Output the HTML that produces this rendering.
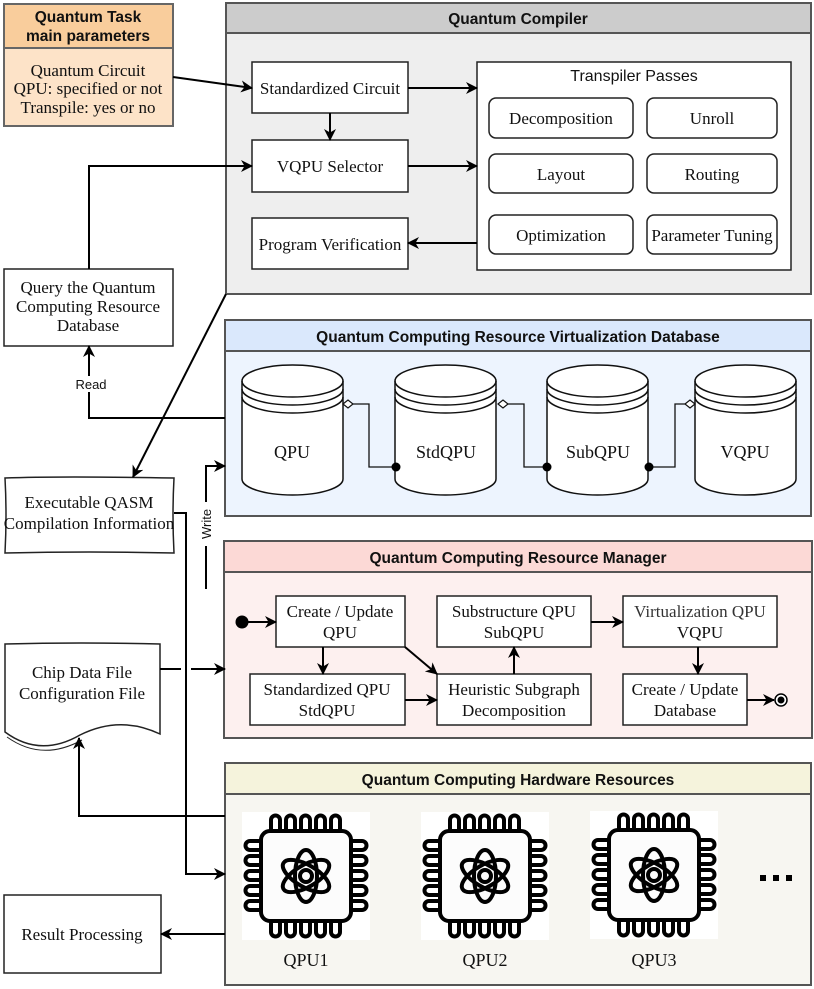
<!DOCTYPE html>
<html><head><meta charset="utf-8"><style>
html,body{margin:0;padding:0;background:#fff;}
svg{display:block;}
.s{font-family:"Liberation Serif",serif;font-size:17px;fill:#111;}
.h{font-family:"Liberation Sans",sans-serif;font-weight:bold;font-size:15.5px;fill:#111;}
.l{font-family:"Liberation Sans",sans-serif;font-size:13px;fill:#111;}
</style></head><body>
<svg width="814" height="989" viewBox="0 0 814 989" xmlns="http://www.w3.org/2000/svg">
<defs>
<marker id="a" markerWidth="12" markerHeight="12" refX="11" refY="6" orient="auto" markerUnits="userSpaceOnUse">
<path d="M0,0 L12,6 L0,12 L3.5,6 z" fill="#000"/></marker>
<g id="chip">
<rect x="0" y="0" width="128" height="128" fill="#fff"/>
<g fill="none" stroke="#000" stroke-width="4">
<rect x="19" y="19" width="90" height="90" rx="9" fill="#fcfcfc"/>
<path d="M29,19V8a4.5,4.5 0 0 1 9,0V19 M44,19V8a4.5,4.5 0 0 1 9,0V19 M59,19V8a4.5,4.5 0 0 1 9,0V19 M74,19V8a4.5,4.5 0 0 1 9,0V19 M89,19V8a4.5,4.5 0 0 1 9,0V19"/>
<path d="M29,109V120a4.5,4.5 0 0 0 9,0V109 M44,109V120a4.5,4.5 0 0 0 9,0V109 M59,109V120a4.5,4.5 0 0 0 9,0V109 M74,109V120a4.5,4.5 0 0 0 9,0V109 M89,109V120a4.5,4.5 0 0 0 9,0V109"/>
<path d="M19,29H8a4.5,4.5 0 0 0 0,9H19 M19,44H8a4.5,4.5 0 0 0 0,9H19 M19,59H8a4.5,4.5 0 0 0 0,9H19 M19,74H8a4.5,4.5 0 0 0 0,9H19 M19,89H8a4.5,4.5 0 0 0 0,9H19"/>
<path d="M109,29H120a4.5,4.5 0 0 1 0,9H109 M109,44H120a4.5,4.5 0 0 1 0,9H109 M109,59H120a4.5,4.5 0 0 1 0,9H109 M109,74H120a4.5,4.5 0 0 1 0,9H109 M109,89H120a4.5,4.5 0 0 1 0,9H109"/>
<ellipse cx="64" cy="64" rx="26" ry="11" transform="rotate(90 64 64)"/>
<ellipse cx="64" cy="64" rx="26" ry="11" transform="rotate(30 64 64)"/>
<ellipse cx="64" cy="64" rx="26" ry="11" transform="rotate(150 64 64)"/>
<circle cx="64" cy="64" r="6"/>
</g></g>
</defs>

<!-- Task params -->
<rect x="4" y="4" width="169" height="122" fill="#fde3c8" stroke="#666" stroke-width="2"/>
<rect x="4" y="4" width="169" height="44" fill="#f9cd9c" stroke="#666" stroke-width="2"/>
<text class="h" x="88" y="22" text-anchor="middle">Quantum Task</text>
<text class="h" x="88" y="41" text-anchor="middle">main parameters</text>
<text class="s" x="88" y="76" text-anchor="middle">Quantum Circuit</text>
<text class="s" x="88" y="94" text-anchor="middle">QPU: specified or not</text>
<text class="s" x="88" y="113" text-anchor="middle">Transpile: yes or no</text>

<!-- Compiler -->
<rect x="226" y="3" width="585" height="291" fill="#eeeeee" stroke="#555" stroke-width="2"/>
<rect x="226" y="3" width="585" height="30" fill="#cccccc" stroke="#555" stroke-width="2"/>
<text class="h" x="518" y="24" text-anchor="middle">Quantum Compiler</text>
<g fill="#fff" stroke="#222" stroke-width="1.5">
<rect x="252" y="62" width="156" height="51"/>
<rect x="252" y="140" width="156" height="52"/>
<rect x="252" y="218" width="156" height="51"/>
<rect x="477" y="62" width="314" height="208"/>
<rect x="489" y="98" width="144" height="40" rx="7"/>
<rect x="647" y="98" width="130" height="40" rx="7"/>
<rect x="489" y="154" width="144" height="39" rx="7"/>
<rect x="647" y="154" width="130" height="39" rx="7"/>
<rect x="489" y="215" width="144" height="39" rx="7"/>
<rect x="647" y="215" width="130" height="39" rx="7"/>
</g>
<text class="s" x="330" y="94" text-anchor="middle">Standardized Circuit</text>
<text class="s" x="330" y="172" text-anchor="middle">VQPU Selector</text>
<text class="s" x="330" y="250" text-anchor="middle">Program Verification</text>
<text class="l" x="634" y="81" text-anchor="middle" style="font-size:16px">Transpiler Passes</text>
<text class="s" x="561" y="124" text-anchor="middle">Decomposition</text>
<text class="s" x="712" y="124" text-anchor="middle">Unroll</text>
<text class="s" x="561" y="180" text-anchor="middle">Layout</text>
<text class="s" x="712" y="180" text-anchor="middle">Routing</text>
<text class="s" x="561" y="241" text-anchor="middle">Optimization</text>
<text class="s" x="712" y="241" text-anchor="middle">Parameter Tuning</text>

<!-- Query -->
<rect x="4" y="269" width="169" height="77" fill="#fff" stroke="#222" stroke-width="1.5"/>
<text class="s" x="88" y="293" text-anchor="middle">Query the Quantum</text>
<text class="s" x="88" y="312" text-anchor="middle">Computing Resource</text>
<text class="s" x="88" y="331" text-anchor="middle">Database</text>

<!-- DB -->
<rect x="225" y="320" width="586" height="196" fill="#edf4fe" stroke="#555" stroke-width="2"/>
<rect x="225" y="320" width="586" height="31" fill="#dae8fc" stroke="#555" stroke-width="2"/>
<text class="h" x="518" y="342" text-anchor="middle">Quantum Computing Resource Virtualization Database</text>
<g fill="#fff" stroke="#111" stroke-width="1.5">
<g id="cyl"><path d="M242,381 A50.5,16 0 0 1 343,381 V479 A50.5,16 0 0 1 242,479 Z"/>
<path d="M242,381 A50.5,16 0 0 0 343,381 M242,389 A50.5,16 0 0 0 343,389 M242,397 A50.5,16 0 0 0 343,397" fill="none"/></g>
<use href="#cyl" x="153"/><use href="#cyl" x="305"/><use href="#cyl" x="453"/>
</g>
<text class="s" x="292" y="458" text-anchor="middle" style="font-size:18px">QPU</text>
<text class="s" x="446" y="458" text-anchor="middle" style="font-size:18px">StdQPU</text>
<text class="s" x="598" y="458" text-anchor="middle" style="font-size:18px">SubQPU</text>
<text class="s" x="745" y="458" text-anchor="middle" style="font-size:18px">VQPU</text>
<g fill="none" stroke="#111" stroke-width="1.3">
<path d="M353,404H369V467H396"/><path d="M508,404H524V467H547"/><path d="M649,467H675V404H685"/>
</g>
<g fill="#fff" stroke="#111" stroke-width="1.2">
<path d="M343,404l5,-4l5,4l-5,4z"/><path d="M498,404l5,-4l5,4l-5,4z"/><path d="M685,404l5,-4l5,4l-5,4z"/>
</g>
<circle cx="396" cy="467" r="4.5"/><circle cx="547" cy="467" r="4.5"/><circle cx="649" cy="467" r="4.5"/>

<!-- QASM doc -->
<path d="M5,478 Q60,476 174,478 Q172,515 174,553 Q90,551 5,553 Q7,515 5,478Z" fill="#fff" stroke="#222" stroke-width="1.5"/>
<text class="s" x="89" y="508" text-anchor="middle">Executable QASM</text>
<text class="s" x="89" y="529" text-anchor="middle">Compilation Information</text>

<!-- Manager -->
<rect x="224" y="541" width="588" height="197" fill="#fdf0ef" stroke="#555" stroke-width="2"/>
<rect x="224" y="541" width="588" height="31" fill="#fcd9d6" stroke="#555" stroke-width="2"/>
<text class="h" x="518" y="563" text-anchor="middle">Quantum Computing Resource Manager</text>
<g fill="#fff" stroke="#222" stroke-width="1.5">
<rect x="276" y="596" width="129" height="51"/>
<rect x="250" y="674" width="155" height="51"/>
<rect x="437" y="596" width="154" height="51"/>
<rect x="437" y="674" width="154" height="51"/>
<rect x="623" y="596" width="154" height="51"/>
<rect x="623" y="674" width="124" height="51"/>
</g>
<text class="s" x="340" y="617" text-anchor="middle">Create / Update</text>
<text class="s" x="340" y="638" text-anchor="middle">QPU</text>
<text class="s" x="327" y="695" text-anchor="middle">Standardized QPU</text>
<text class="s" x="327" y="716" text-anchor="middle">StdQPU</text>
<text class="s" x="514" y="617" text-anchor="middle">Substructure QPU</text>
<text class="s" x="514" y="638" text-anchor="middle">SubQPU</text>
<text class="s" x="514" y="695" text-anchor="middle">Heuristic Subgraph</text>
<text class="s" x="514" y="716" text-anchor="middle">Decomposition</text>
<text class="s" x="700" y="617" text-anchor="middle" style="fill:#333">Virtualization QPU</text>
<text class="s" x="700" y="638" text-anchor="middle">VQPU</text>
<text class="s" x="685" y="695" text-anchor="middle">Create / Update</text>
<text class="s" x="685" y="716" text-anchor="middle">Database</text>
<circle cx="242" cy="622" r="6.5" fill="#000"/>
<circle cx="781" cy="700" r="6" fill="#fff" stroke="#000" stroke-width="1.5"/><circle cx="781" cy="700" r="3.5" fill="#000"/>

<!-- Chip data doc -->
<path d="M5,644 Q80,642 160,644 L160,734 Q120,715 80,735 Q40,758 5,732 Z" fill="#fff" stroke="#222" stroke-width="1.5"/>
<path d="M7,737 Q42,762 82,740" fill="none" stroke="#222" stroke-width="1"/>
<text class="s" x="82" y="678" text-anchor="middle">Chip Data File</text>
<text class="s" x="82" y="699" text-anchor="middle">Configuration File</text>

<!-- Hardware -->
<rect x="225" y="763" width="586" height="222" fill="#f7f6f1" stroke="#555" stroke-width="2"/>
<rect x="225" y="763" width="586" height="31" fill="#f5f3dc" stroke="#555" stroke-width="2"/>
<text class="h" x="518" y="785" text-anchor="middle">Quantum Computing Hardware Resources</text>
<use href="#chip" x="242" y="812"/><use href="#chip" x="421" y="812"/><use href="#chip" x="590" y="811"/>
<text class="s" x="306" y="966" text-anchor="middle" style="font-size:18px">QPU1</text>
<text class="s" x="485" y="966" text-anchor="middle" style="font-size:18px">QPU2</text>
<text class="s" x="654" y="966" text-anchor="middle" style="font-size:18px">QPU3</text>
<g fill="#000"><rect x="760" y="875" width="6" height="6"/><rect x="773" y="875" width="6" height="6"/><rect x="786" y="875" width="6" height="6"/></g>

<!-- Result -->
<rect x="4" y="895" width="157" height="78" fill="#fff" stroke="#222" stroke-width="1.5"/>
<text class="s" x="82" y="940" text-anchor="middle">Result Processing</text>

<!-- connectors -->
<g fill="none" stroke="#000" stroke-width="2" marker-end="url(#a)">
<path d="M173,77 L252,88"/>
<path d="M408,88 H477"/>
<path d="M408,166 H477"/>
<path d="M477,243 H408"/>
<path d="M330,113 V140"/>
<path d="M89,269 V166 H252"/>
<path d="M225,418 H89 V346"/>
<path d="M226,294 L133,477"/>
<path d="M174,513 H186 V874 H225"/>
<path d="M160,669 H181 M191,669 H225"/>
<path d="M206,589 V466 H225"/>
<path d="M225,816 H79 V738"/>
<path d="M225,934 H161"/>
<path d="M248,622 H276"/>
<path d="M323,647 V674"/>
<path d="M405,647 L437,674"/>
<path d="M405,700 H437"/>
<path d="M514,674 V647"/>
<path d="M591,622 H623"/>
<path d="M698,647 V674"/>
<path d="M747,700 H774"/>
</g>
<rect x="78" y="376" width="26" height="16" fill="#fff"/>
<text class="l" x="91" y="389" text-anchor="middle">Read</text>
<rect x="199" y="502" width="14" height="44" fill="#fff"/>
<text class="l" x="0" y="0" text-anchor="middle" transform="translate(211,524) rotate(-90)">Write</text>
</svg>
</body></html>
